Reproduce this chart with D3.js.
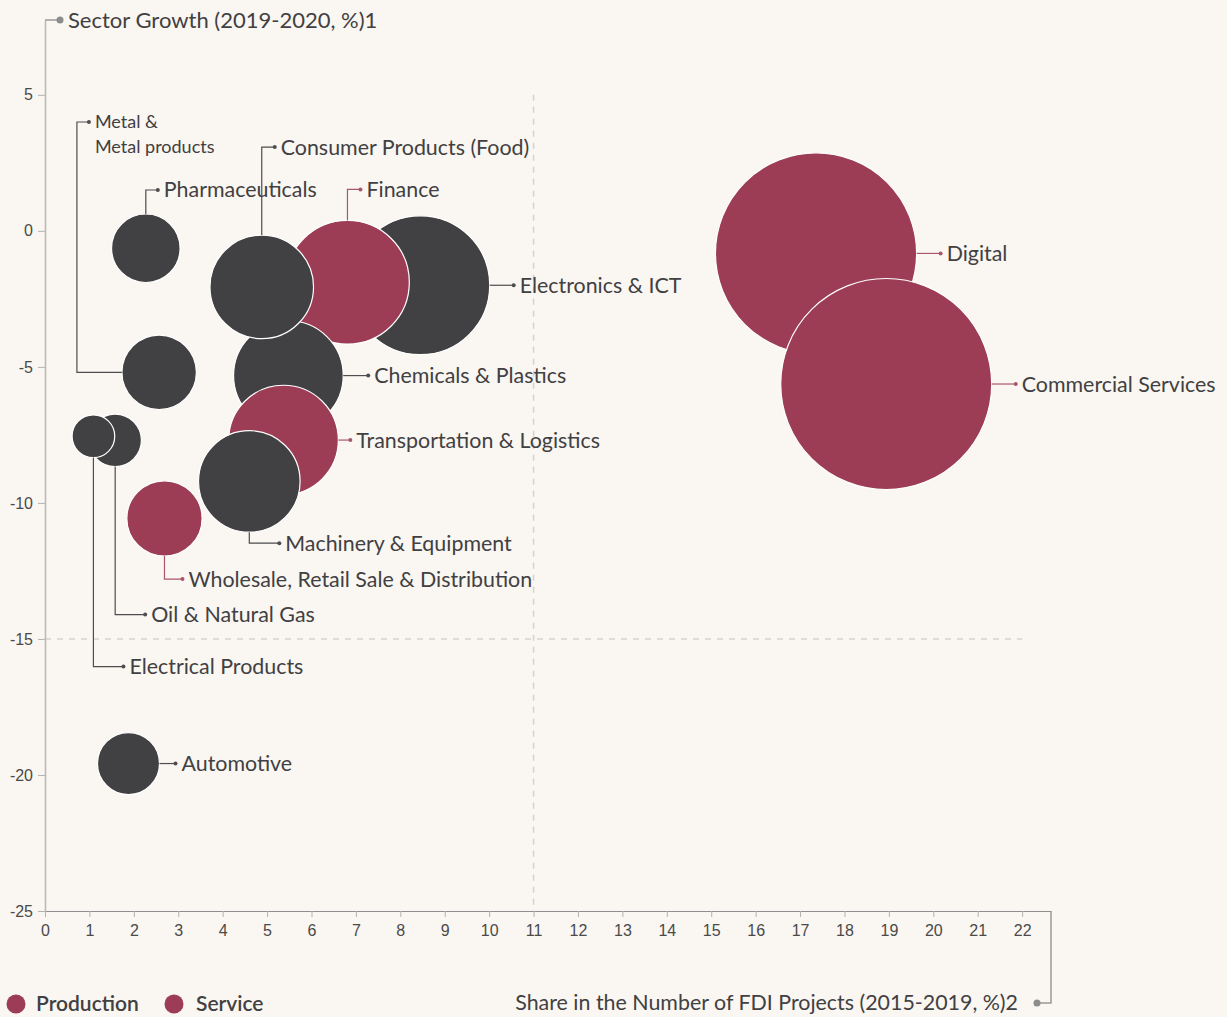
<!DOCTYPE html>
<html>
<head>
<meta charset="utf-8">
<script src="https://cdn.jsdelivr.net/npm/d3@7"></script>
<style>
  body { margin: 0; background: #faf6f1; }
  svg { display: block; font-family: Lato, "Noto Sans", sans-serif; }
</style>
</head>
<body>
<svg id="chart"></svg>
<script>
// Sector data: share of FDI projects (x), sector growth (y), bubble size, group
const sectors = ["Digital", "Commercial Services", "Electronics & ICT", "Finance",
    "Chemicals & Plastics", "Consumer Products (Food)", "Transportation & Logistics",
    "Machinery & Equipment", "Pharmaceuticals", "Metal & Metal products",
    "Wholesale, Retail Sale & Distribution", "Oil & Natural Gas", "Electrical Products", "Automotive"];
const fdiShare = [17.36, 18.94, 8.45, 6.81, 5.48, 4.88, 5.37, 4.6, 2.27, 2.57, 2.69, 1.58, 1.09, 1.88];
const growth = [-0.83, -5.63, -2.0, -1.89, -5.32, -2.06, -7.69, -9.21, -0.64, -5.2, -10.57, -7.7, -7.55, -19.58];
const bubbleSize = [100, 110, 47.6, 37.8, 29.7, 26.5, 29.7, 25.5, 11.6, 13.7, 14.0, 6.8, 4.5, 9.5];
const groups = ["Service", "Service", "Production", "Service", "Production", "Production", "Service",
    "Production", "Production", "Production", "Service", "Production", "Production", "Production"];
const xTicks = d3.range(0, 23);
const yTicks = [5, 0, -5, -10, -15, -20, -25];
const xRef = 11, yRef = -15;

// Label placement (layout only)
const labelLayout = {
    "Digital": { dir: "right", len: 24 },
    "Commercial Services": { dir: "right", len: 24 },
    "Electronics & ICT": { dir: "right", len: 24 },
    "Finance": { dir: "up", rise: 31, len: 13 },
    "Chemicals & Plastics": { dir: "right", len: 25 },
    "Consumer Products (Food)": { dir: "up", rise: 88, len: 13 },
    "Transportation & Logistics": { dir: "right", len: 12 },
    "Machinery & Equipment": { dir: "down", rise: 11, len: 30 },
    "Pharmaceuticals": { dir: "up", rise: 24, len: 12 },
    "Metal & Metal products": { dir: "leftup", out: 45, top: 122, len: 12 },
    "Wholesale, Retail Sale & Distribution": { dir: "down", rise: 23, len: 18 },
    "Oil & Natural Gas": { dir: "down", rise: 148, len: 30 },
    "Electrical Products": { dir: "down", rise: 209, len: 30 },
    "Automotive": { dir: "right", len: 16 }
};

const data = sectors.map((s, i) => ({
    name: s, x: fdiShare[i], y: growth[i], size: bubbleSize[i], group: groups[i]
}));

const W = 1227, H = 1017;
const colors = { Production: "#414042", Service: "#9c3c55" };
const lineColors = { Production: "#4d4d4f", Service: "#a9566b" };
const textColor = "#414042";
const labelSize = 21.4;

const svg = d3.select("#chart").attr("width", W).attr("height", H);
svg.append("rect").attr("width", W).attr("height", H).attr("fill", "#faf6f1");

const x = d3.scaleLinear().domain([0, 22.65]).range([45, 1051]);
const y = d3.scaleLinear().domain([-25, 7.75]).range([911, 20]);
const r = d3.scaleSqrt().domain([0, 110]).range([0, 105.5]);

// Reference dashed lines
svg.append("line")
    .attr("x1", x(xRef)).attr("x2", x(xRef))
    .attr("y1", y(5)).attr("y2", y(-25))
    .attr("stroke", "#d6d3cf").attr("stroke-width", 1.5).attr("stroke-dasharray", "6,6");
svg.append("line")
    .attr("x1", x(0)).attr("x2", x(22))
    .attr("y1", y(yRef)).attr("y2", y(yRef))
    .attr("stroke", "#d6d3cf").attr("stroke-width", 1.5).attr("stroke-dasharray", "6,6");

// Axes
const xAxis = svg.append("g")
    .attr("transform", `translate(0,${y(-25)})`)
    .call(d3.axisBottom(x).tickValues(xTicks).tickSize(6).tickSizeOuter(0).tickFormat(d => String(d)));
xAxis.select(".domain").attr("stroke", "#8f8f8f");
xAxis.selectAll(".tick line").attr("stroke", "#b3b3b3");
xAxis.selectAll(".tick text").attr("fill", "#4a4a4a").attr("font-size", 16).attr("dy", "1.0em");

const yAxis = svg.append("g")
    .attr("transform", `translate(${x(0)},0)`)
    .call(d3.axisLeft(y).tickValues(yTicks).tickSize(7).tickSizeOuter(0).tickFormat(d => String(d)));
yAxis.select(".domain").attr("stroke", "#b8b8b8").attr("stroke-width", 1.5);
yAxis.selectAll(".tick line").attr("stroke", "#b3b3b3");
yAxis.selectAll(".tick text").attr("fill", "#4a4a4a").attr("font-size", 16).attr("x", -12);

// Y axis title with connector
svg.append("line").attr("x1", x(0)).attr("x2", 60).attr("y1", 20).attr("y2", 20)
    .attr("stroke", "#9a9a9a").attr("stroke-width", 1.5);
svg.append("circle").attr("cx", 60).attr("cy", 20).attr("r", 3.5).attr("fill", "#8c8c8c");
svg.append("text").attr("x", 68).attr("y", 20).attr("dy", "0.35em")
    .attr("font-size", 22).attr("fill", textColor)
    .text("Sector Growth (2019-2020, %)1");

// X axis title with connector
svg.append("path")
    .attr("d", `M${x(22.65)},${y(-25)}V1003H1037`)
    .attr("fill", "none").attr("stroke", "#9a9a9a").attr("stroke-width", 1.5);
svg.append("circle").attr("cx", 1037).attr("cy", 1003).attr("r", 3.5).attr("fill", "#8c8c8c");
svg.append("text").attr("x", 1018).attr("y", 1003).attr("dy", "0.35em")
    .attr("text-anchor", "end").attr("font-size", 21.4).attr("fill", textColor)
    .text("Share in the Number of FDI Projects (2015-2019, %)2");

// Bubbles
svg.append("g").selectAll("circle")
    .data(data)
    .join("circle")
    .attr("cx", d => x(d.x))
    .attr("cy", d => y(d.y))
    .attr("r", d => r(d.size))
    .attr("fill", d => colors[d.group])
    .attr("stroke", "#ffffff")
    .attr("stroke-width", 1.2);

// Label connectors
const labels = svg.append("g");
data.forEach(d => {
    const L = labelLayout[d.name];
    const cx = x(d.x), cy = y(d.y), rr = r(d.size);
    let path, ex, ey;
    if (L.dir === "right") {
        ex = cx + rr + L.len; ey = cy;
        path = `M${cx + rr},${cy}H${ex}`;
    } else if (L.dir === "up") {
        ey = cy - rr - L.rise; ex = cx + L.len;
        path = `M${cx},${cy - rr}V${ey}H${ex}`;
    } else if (L.dir === "down") {
        ey = cy + rr + L.rise; ex = cx + L.len;
        path = `M${cx},${cy + rr}V${ey}H${ex}`;
    } else {
        const lx = cx - rr - L.out;
        ey = L.top; ex = lx + L.len;
        path = `M${cx - rr},${cy}H${lx}V${ey}H${ex}`;
    }
    labels.append("path").attr("d", path)
        .attr("fill", "none").attr("stroke", lineColors[d.group]).attr("stroke-width", 1.2);
    labels.append("circle").attr("cx", ex).attr("cy", ey).attr("r", 2)
        .attr("fill", lineColors[d.group]);
    if (L.dir === "leftup") {
        const t = labels.append("text").attr("x", ex + 6).attr("y", ey)
            .attr("font-size", 18).attr("fill", textColor);
        t.append("tspan").attr("x", ex + 6).attr("dy", "0.35em").text("Metal &");
        t.append("tspan").attr("x", ex + 6).attr("dy", "1.35em").text("Metal products");
    } else {
        labels.append("text").attr("x", ex + 6).attr("y", ey).attr("dy", "0.35em")
            .attr("font-size", labelSize).attr("fill", textColor).text(d.name);
    }
});

// Legend (both swatches drawn in the service colour, as in the source)
const legendItems = [{ label: "Production", x: 16, tx: 36 }, { label: "Service", x: 174, tx: 196 }];
const legend = svg.append("g");
legendItems.forEach(it => {
    legend.append("circle").attr("cx", it.x).attr("cy", 1004).attr("r", 9.5).attr("fill", colors.Service);
    legend.append("text").attr("x", it.tx).attr("y", 1004).attr("dy", "0.35em")
        .attr("font-size", 21).attr("font-weight", 600).attr("fill", textColor).text(it.label);
});
</script>
</body>
</html>
